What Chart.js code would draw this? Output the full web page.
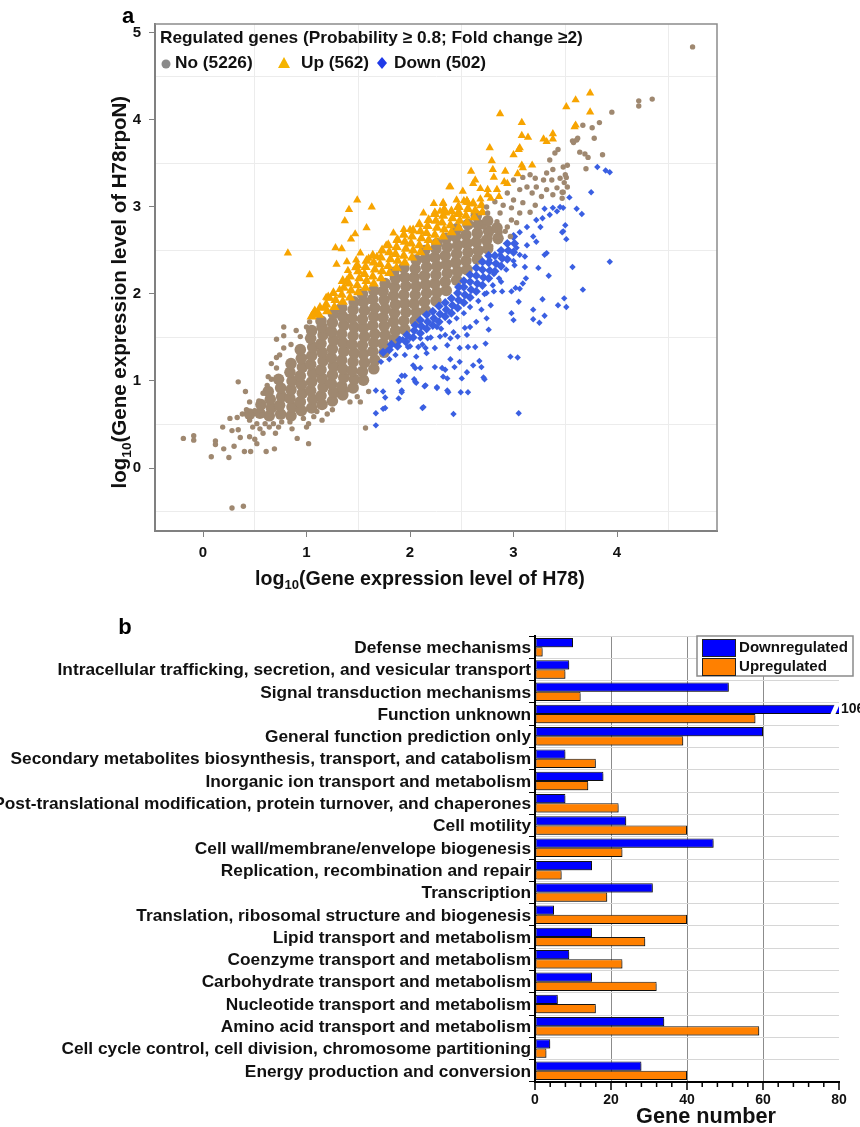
<!DOCTYPE html>
<html><head><meta charset="utf-8">
<script src="https://cdn.jsdelivr.net/npm/chart.js@4.4.0/dist/chart.umd.min.js"></script>
<style>
html,body{margin:0;padding:0;background:#fff;}
body{width:860px;height:1127px;overflow:hidden;position:relative;}
#ca{position:absolute;left:0;top:0;}
#cb{position:absolute;left:0;top:600px;}
</style></head><body>
<canvas id="ca" width="860" height="600"></canvas>
<canvas id="cb" width="860" height="527"></canvas>
<script>
// ---------------- Panel a data (log10 H78, log10 H78rpoN) ----------------
const X_TICKS_A = [0,0.5,1,1.5,2,2.5,3,3.5,4,4.5];
const Y_TICKS_A = [-0.5,0,0.5,1,1.5,2,2.5,3,3.5,4,4.5,5];

// dense part of the "No" cloud
const NO_CORE = [
[0.45,0.62],[0.55,0.63],[0.56,0.73],
[0.64,0.6],[0.66,0.69],[0.65,0.79],[0.63,0.88],
[0.75,0.62],[0.74,0.72],[0.76,0.82],[0.75,0.92],[0.73,1.02],
[0.85,0.6],[0.86,0.7],[0.84,0.8],[0.85,0.9],[0.86,1.0],[0.84,1.1],[0.85,1.2],
[0.95,0.66],[0.94,0.76],[0.96,0.86],[0.95,0.96],[0.94,1.06],[0.96,1.16],[0.95,1.26],[0.94,1.36],
[1.05,0.69],[1.06,0.79],[1.04,0.89],[1.05,0.99],[1.06,1.09],[1.04,1.19],[1.05,1.29],[1.06,1.39],[1.04,1.49],[1.05,1.58],
[1.15,0.73],[1.14,0.83],[1.16,0.93],[1.15,1.03],[1.14,1.13],[1.16,1.23],[1.15,1.33],[1.14,1.43],[1.16,1.53],[1.15,1.62],[1.14,1.69],
[1.25,0.77],[1.26,0.87],[1.24,0.97],[1.25,1.07],[1.26,1.17],[1.24,1.27],[1.25,1.37],[1.26,1.47],[1.24,1.57],[1.25,1.67],[1.26,1.77],
[1.35,0.84],[1.34,0.94],[1.36,1.04],[1.35,1.14],[1.34,1.24],[1.36,1.34],[1.35,1.44],[1.34,1.54],[1.36,1.64],[1.35,1.74],[1.34,1.84],
[1.45,0.92],[1.46,1.02],[1.44,1.12],[1.45,1.22],[1.46,1.32],[1.44,1.42],[1.45,1.52],[1.46,1.62],[1.44,1.72],[1.45,1.82],[1.46,1.91],
[1.55,1.01],[1.54,1.11],[1.56,1.21],[1.55,1.31],[1.54,1.41],[1.56,1.51],[1.55,1.61],[1.54,1.71],[1.56,1.81],[1.55,1.91],[1.54,2.0],
[1.65,1.14],[1.66,1.24],[1.64,1.34],[1.65,1.44],[1.66,1.54],[1.64,1.64],[1.65,1.74],[1.66,1.84],[1.64,1.94],[1.65,2.04],
[1.75,1.33],[1.74,1.43],[1.76,1.53],[1.75,1.63],[1.74,1.73],[1.76,1.83],[1.75,1.93],[1.74,2.03],[1.76,2.12],
[1.85,1.48],[1.86,1.58],[1.84,1.68],[1.85,1.78],[1.86,1.88],[1.84,1.98],[1.85,2.08],[1.86,2.18],[1.84,2.25],
[1.95,1.59],[1.94,1.69],[1.96,1.79],[1.95,1.89],[1.94,1.99],[1.96,2.09],[1.95,2.19],[1.94,2.3],
[2.05,1.69],[2.06,1.79],[2.04,1.89],[2.05,1.99],[2.06,2.09],[2.04,2.19],[2.05,2.29],[2.06,2.39],
[2.15,1.81],[2.14,1.91],[2.16,2.01],[2.15,2.11],[2.14,2.21],[2.16,2.31],[2.15,2.41],[2.14,2.5],
[2.25,1.92],[2.26,2.02],[2.24,2.12],[2.25,2.22],[2.26,2.32],[2.24,2.42],[2.25,2.52],[2.26,2.58],
[2.35,2.04],[2.34,2.14],[2.36,2.24],[2.35,2.34],[2.34,2.44],[2.36,2.54],[2.35,2.64],
[2.45,2.16],[2.46,2.26],[2.44,2.36],[2.45,2.46],[2.46,2.56],[2.44,2.66],[2.45,2.75],
[2.55,2.28],[2.54,2.38],[2.56,2.48],[2.55,2.58],[2.54,2.68],[2.56,2.8],
[2.65,2.4],[2.66,2.5],[2.64,2.6],[2.65,2.7],[2.66,2.8],[2.64,2.9],
[2.75,2.52],[2.74,2.62],[2.76,2.72],[2.75,2.84],
[2.85,2.64],[2.84,2.76]
];
// scattered "No" genes
const NO_EDGE = [
[-0.19,0.34],[-0.09,0.37],[-0.09,0.32],[0.08,0.13],[0.12,0.31],[0.12,0.27],[0.20,0.22],[0.19,0.47],[0.25,0.12],[0.26,0.57],
[0.28,0.43],[0.30,0.25],[0.33,0.58],[0.34,0.99],[0.34,0.44],[0.36,0.35],[0.28,-0.46],[0.39,-0.44],[0.40,0.19],[0.41,0.88],
[0.46,0.19],[0.45,0.36],[0.45,0.76],[0.50,0.33],[0.52,0.28],[0.58,0.40],[0.61,0.19],[0.69,0.22],[0.70,0.40],[0.63,1.05],
[0.71,1.48],[0.78,1.52],[0.78,1.38],[0.71,1.27],[0.71,1.15],[0.91,0.34],[1.02,0.28],[1.00,0.47],[1.02,0.51],[1.15,0.55],
[1.25,0.67],[1.42,0.76],[1.49,0.82],[1.52,0.76],[1.57,0.46],[1.60,0.88],[1.40,0.90],[1.29,0.84],[1.10,0.65],[0.97,0.57],
[0.84,0.53],[0.76,0.53],[0.68,0.51],[0.60,0.51],[0.57,0.61],[0.52,0.51],[0.45,0.55],[0.42,0.67],[0.58,0.86],[0.38,0.62],
[0.48,0.47],[0.55,0.45],[0.64,0.47],[0.73,0.47],[0.86,0.45],[1.07,0.59],[1.20,0.62],[0.50,0.66],[0.54,0.77],[0.62,0.95],
[0.66,1.02],[0.78,1.62],[0.94,1.51],[1.00,1.62],[1.03,1.68],[0.85,1.42],[0.90,1.58],[0.66,1.20],[0.74,1.30],
[2.71,2.77],[2.77,2.66],[2.87,2.71],[2.97,2.66],[2.74,3.0],[2.75,2.93],[2.84,2.83],[2.94,2.77],[3.03,2.82],[2.98,2.85],
[2.87,2.93],[2.82,3.06],[2.90,3.02],[2.98,2.99],[3.06,2.93],[3.16,2.94],[3.21,3.02],[3.09,3.05],[3.0,3.08],[2.94,3.16],
[3.0,3.31],[3.06,3.20],[3.13,3.23],[3.18,3.16],[3.27,3.12],[3.38,3.14],[3.47,3.17],[3.42,3.22],[3.32,3.20],[3.22,3.23],
[3.09,3.34],[3.16,3.37],[3.21,3.33],[3.29,3.31],[3.37,3.31],[3.45,3.33],[3.50,3.37],[3.32,3.39],[3.38,3.43],[3.48,3.46],
[3.35,3.54],[3.40,3.62],[3.43,3.66],[3.52,3.23],[3.47,3.10],[2.78,2.55],[2.85,2.60],[2.92,2.72],
[4.73,4.84],[4.21,4.22],[4.21,4.16],[4.34,4.24],[3.95,4.09],[3.83,3.97],[3.76,3.91],[3.67,3.94],[3.78,3.79],[3.62,3.79],
[3.57,3.76],[3.58,3.74],[3.64,3.63],[3.69,3.61],[3.72,3.57],[3.86,3.60],[3.70,3.44],[3.52,3.48],[3.49,3.28],[3.51,3.34],
[3.48,3.17],[3.61,3.77]
];
// dense part of the "Up" band
const UP_CORE = [
[1.05,1.74],[1.08,1.8],[1.12,1.76],[1.13,1.84],[1.2,1.8],[1.19,1.88],[1.21,1.96],[1.27,1.85],[1.28,1.93],[1.26,2.01],
[1.35,1.91],[1.34,1.99],[1.36,2.07],[1.35,2.15],[1.42,1.96],[1.43,2.04],[1.41,2.12],[1.42,2.2],
[1.5,2.02],[1.49,2.1],[1.51,2.18],[1.5,2.26],[1.49,2.33],[1.57,2.07],[1.58,2.15],[1.56,2.23],[1.57,2.31],[1.58,2.38],
[1.65,2.12],[1.64,2.2],[1.66,2.28],[1.65,2.36],[1.64,2.44],[1.72,2.18],[1.73,2.26],[1.71,2.34],[1.72,2.42],[1.73,2.5],
[1.8,2.24],[1.79,2.32],[1.81,2.4],[1.8,2.48],[1.79,2.56],[1.87,2.3],[1.88,2.38],[1.86,2.46],[1.87,2.54],[1.88,2.62],
[1.95,2.36],[1.94,2.44],[1.96,2.52],[1.95,2.6],[1.94,2.68],[2.02,2.42],[2.03,2.5],[2.01,2.58],[2.02,2.66],[2.03,2.73],
[2.1,2.48],[2.09,2.56],[2.11,2.64],[2.1,2.72],[2.09,2.8],[2.17,2.54],[2.18,2.62],[2.16,2.7],[2.17,2.78],[2.18,2.85],
[2.25,2.6],[2.24,2.68],[2.26,2.76],[2.25,2.84],[2.24,2.92],[2.32,2.66],[2.33,2.74],[2.31,2.82],[2.32,2.9],[2.33,2.97],
[2.4,2.71],[2.39,2.79],[2.41,2.87],[2.4,2.95],[2.47,2.76],[2.48,2.84],[2.46,2.92],[2.47,3.0],
[2.55,2.82],[2.54,2.9],[2.56,2.98],[2.55,3.06],[2.62,2.88],[2.63,2.96],[2.61,3.04],[2.7,2.94],[2.69,3.02]
];
// scattered "Up" genes
const UP_EDGE = [
[0.82,2.47],[1.03,2.22],[1.49,3.08],[1.41,2.97],[1.63,3.0],[1.37,2.84],[1.58,2.76],[1.47,2.69],[1.43,2.63],[1.28,2.53],
[1.34,2.52],[1.52,2.47],[1.60,2.41],[1.68,2.43],[1.29,2.34],[1.39,2.37],[1.48,2.39],[1.40,2.27],[1.47,2.30],[1.39,2.16],
[1.32,2.05],[1.23,1.95],[1.19,1.96],[1.18,1.84],[1.11,1.78],[1.06,1.77],[1.84,2.70],[1.77,2.56],[1.87,2.62],[2.13,2.93],
[2.23,3.04],[2.32,3.04],[2.38,3.23],[2.51,3.18],[2.61,3.27],[2.45,3.08],[2.52,3.07],[2.56,3.05],[2.29,2.95],[2.35,2.93],
[2.48,2.93],[2.0,2.74],[1.94,2.74],[2.87,4.07],[3.08,3.97],[3.08,3.82],[3.14,3.80],[3.29,3.78],[3.32,3.75],[3.38,3.84],
[3.38,3.78],[3.06,3.68],[3.05,3.66],[2.77,3.68],[3.0,3.6],[2.79,3.53],[3.08,3.48],[3.18,3.48],[3.04,3.38],[3.09,3.45],
[2.59,3.41],[2.80,3.43],[2.92,3.41],[2.81,3.34],[2.91,3.29],[2.94,3.27],[2.63,3.31],[2.39,3.23],[2.68,3.21],[2.75,3.20],
[2.84,3.20],[2.75,3.14],[2.32,3.05],[2.55,3.07],[2.68,3.09],[2.24,2.94],[2.46,3.0],[2.56,2.97],[2.78,3.1],[2.86,3.12],
[3.74,4.31],[3.60,4.23],[3.51,4.15],[3.74,4.09],[3.60,3.94],[3.59,3.92]
];
// dense part of the "Down" band
const DOWN_CORE = [
[1.74,1.33],[1.8,1.36],[1.82,1.42],[1.88,1.4],[1.9,1.47],[1.96,1.45],[1.97,1.53],[2.03,1.5],[2.04,1.58],[2.05,1.64],
[2.1,1.55],[2.11,1.63],[2.1,1.7],[2.16,1.6],[2.17,1.68],[2.16,1.76],[2.22,1.64],[2.23,1.72],[2.22,1.8],[2.28,1.68],
[2.29,1.77],[2.28,1.86],[2.34,1.74],[2.35,1.82],[2.34,1.9],[2.4,1.78],[2.41,1.87],[2.4,1.95],[2.46,1.84],[2.47,1.93],
[2.46,2.01],[2.47,2.08],[2.52,1.9],[2.53,1.99],[2.52,2.08],[2.52,2.15],[2.58,1.96],[2.59,2.05],[2.58,2.14],[2.58,2.22],
[2.64,2.03],[2.65,2.12],[2.64,2.21],[2.64,2.3],[2.7,2.1],[2.71,2.19],[2.7,2.28],[2.7,2.37],[2.76,2.18],[2.77,2.27],
[2.76,2.36],[2.76,2.44],[2.82,2.26],[2.83,2.35],[2.82,2.44],[2.88,2.32],[2.89,2.41],[2.88,2.5],[2.94,2.4],[2.95,2.5],
[2.94,2.58],[3.0,2.48],[3.01,2.58],[3.0,2.66]
];
// scattered "Down" genes
const DOWN_EDGE = [
[3.81,3.46],[3.89,3.42],[3.93,3.40],[3.75,3.17],[3.54,3.11],[3.61,2.98],[3.66,2.92],[3.50,2.79],[3.48,2.72],[3.51,2.63],
[3.93,2.37],[3.57,2.31],[3.67,2.05],[3.49,1.95],[3.51,1.85],[3.48,2.99],[3.45,3.0],[3.42,2.95],[3.38,2.99],[3.30,2.98],
[3.35,2.91],[3.47,2.71],[3.28,2.87],[3.22,2.85],[3.26,2.77],[3.13,2.77],[3.06,2.71],[3.19,2.66],[3.22,2.60],[3.32,2.47],
[3.13,2.56],[3.03,2.53],[2.87,2.45],[2.77,2.39],[3.11,2.43],[3.01,2.33],[3.11,2.31],[3.30,2.45],[3.24,2.30],[3.34,2.21],
[3.43,1.87],[3.28,1.94],[3.19,1.82],[3.30,1.75],[3.19,1.71],[3.25,1.67],[3.12,2.18],[3.09,2.12],[3.06,2.06],[3.02,2.07],
[2.98,2.03],[2.89,2.03],[3.05,1.91],[2.98,1.78],[3.0,1.70],[2.97,1.28],[3.04,1.27],[3.05,0.63],[2.81,2.03],[2.88,2.14],
[2.81,2.23],[2.74,2.01],[2.78,1.87],[2.69,1.82],[2.74,1.72],[2.76,1.59],[2.64,1.68],[2.73,1.43],[2.67,1.23],[2.69,1.16],
[2.71,1.04],[2.61,1.18],[2.58,1.62],[2.55,1.53],[2.53,1.61],[2.63,1.39],[2.56,1.39],[2.48,1.38],[2.55,1.10],[2.50,1.03],
[2.56,0.87],[2.49,0.87],[2.42,0.62],[2.48,1.22],[2.43,1.16],[2.39,1.25],[2.46,1.51],[2.42,1.56],[2.39,1.49],[2.36,1.41],
[2.29,1.51],[2.34,1.13],[2.31,1.15],[2.24,1.16],[2.36,1.03],[2.32,1.05],[2.26,0.93],[2.37,0.87],[2.14,0.94],[2.06,0.98],
[2.05,0.99],[2.12,0.69],[1.95,1.06],[1.92,1.06],[1.92,0.87],[2.05,1.15],[2.10,1.15],[2.03,1.18],[2.24,1.38],[2.15,1.38],
[2.16,1.32],[2.06,1.28],[1.95,1.30],[1.98,1.39],[2.08,1.39],[2.17,1.49],[2.26,1.62],[2.34,1.53],[2.10,1.49],[2.0,1.49],
[1.93,1.48],[1.67,0.49],[1.67,0.63],[1.74,0.68],[1.76,0.69],[1.76,0.81],[1.67,0.89],[1.74,0.88],[1.89,0.80],[1.92,0.89],
[2.13,0.70],[2.26,0.92],[2.36,0.89],[1.89,1.0],[2.04,1.02],[2.15,0.95],[2.72,1.02],
[1.72,1.22],[1.8,1.25],[1.86,1.3],[2.0,1.4],[2.12,1.42],[2.2,1.5],[2.3,1.6],[2.38,1.68],[2.45,1.72],[2.52,1.78],
[2.58,1.85],[2.66,1.92],[2.72,2.0],[2.8,2.1],[2.86,2.18],[2.93,2.28],[3.0,2.38],[3.06,2.45]
];

// ---------------- Panel b data ----------------
const CATEGORIES = [
"Defense mechanisms",
"Intracellular trafficking, secretion, and vesicular transport",
"Signal transduction mechanisms",
"Function unknown",
"General function prediction only",
"Secondary metabolites biosynthesis, transport, and catabolism",
"Inorganic ion transport and metabolism",
"Post-translational modification, protein turnover, and chaperones",
"Cell motility",
"Cell wall/membrane/envelope biogenesis",
"Replication, recombination and repair",
"Transcription",
"Translation, ribosomal structure and biogenesis",
"Lipid transport and metabolism",
"Coenzyme transport and metabolism",
"Carbohydrate transport and metabolism",
"Nucleotide transport and metabolism",
"Amino acid transport and metabolism",
"Cell cycle control, cell division, chromosome partitioning",
"Energy production and conversion"
];
const DOWN_COUNTS = [10,9,51,106,60,8,18,8,24,47,15,31,5,15,9,15,6,34,4,28];
const UP_COUNTS   = [2,8,12,58,39,16,14,22,40,23,7,19,40,29,23,32,16,59,3,40];
const X_TICKS_B = [0,4,8,12,16,20,24,28,32,36,40,44,48,52,56,60,64,68,72,76,80];

// ---------------- styling ----------------
const FONT = '"Liberation Sans", Arial, Helvetica, sans-serif';
const BROWN = '#9f8870', ORANGE = '#f7a400', BLUE = '#3a5fe2';
const BAR_BLUE = '#0000ff', BAR_ORANGE = '#ff8000';
const TRANSPARENT = 'rgba(0,0,0,0)';
const toPts = a => a.map(p => ({x:p[0], y:p[1]}));
const isInt = v => Math.abs(v - Math.round(v)) < 1e-9;

function fitSize(ctx, text, target, base){
  ctx.font = `bold ${base}px ${FONT}`;
  return base * target / ctx.measureText(text).width;
}
function drawLogTitle(ctx, cx, cy, rest, target, vertical){
  const base = 18, sub = 12;
  ctx.font = `bold ${base}px ${FONT}`;
  const w1 = ctx.measureText('log').width, w3 = ctx.measureText(rest).width;
  ctx.font = `bold ${sub}px ${FONT}`;
  const w2 = ctx.measureText('10').width;
  const k = target / (w1 + w2 + w3);
  ctx.save();
  ctx.translate(cx, cy);
  if (vertical) ctx.rotate(-Math.PI/2);
  ctx.fillStyle = '#111'; ctx.textAlign = 'left'; ctx.textBaseline = 'alphabetic';
  let x = -(w1 + w2 + w3) * k / 2;
  const by = base * k * 0.36;
  ctx.font = `bold ${base*k}px ${FONT}`; ctx.fillText('log', x, by); x += w1 * k;
  ctx.font = `bold ${sub*k}px ${FONT}`; ctx.fillText('10', x, by + 4*k); x += w2 * k;
  ctx.font = `bold ${base*k}px ${FONT}`; ctx.fillText(rest, x, by);
  ctx.restore();
}

// ---------------- Panel a ----------------
const decorA = {
  id: 'decorA',
  afterDraw(chart){
    const ctx = chart.ctx, a = chart.chartArea;
    ctx.save();
    ctx.strokeStyle = '#8c8c8c'; ctx.lineWidth = 1.5;
    ctx.beginPath();
    ctx.moveTo(a.left, a.top); ctx.lineTo(a.right, a.top); ctx.lineTo(a.right, a.bottom);
    ctx.stroke();
    const title = 'Regulated genes (Probability \u2265 0.8; Fold change \u22652)';
    const fs = fitSize(ctx, title, 423, 16);
    ctx.font = `bold ${fs}px ${FONT}`;
    ctx.fillStyle = '#111'; ctx.textAlign = 'left'; ctx.textBaseline = 'middle';
    ctx.fillText(title, 160, 38);
    const ds = chart.data.datasets;
    const ly = 63;
    ctx.fillStyle = '#8a8a8a';
    ctx.beginPath(); ctx.arc(166, ly+1, 4.5, 0, Math.PI*2); ctx.fill();
    ctx.fillStyle = '#111'; ctx.fillText(ds[2].label, 175, ly);
    ctx.fillStyle = '#f5b400';
    ctx.beginPath(); ctx.moveTo(284, ly-6); ctx.lineTo(290, ly+5); ctx.lineTo(278, ly+5); ctx.closePath(); ctx.fill();
    ctx.fillStyle = '#111'; ctx.fillText(ds[1].label, 301, ly);
    ctx.fillStyle = '#1f3ae8';
    ctx.beginPath(); ctx.moveTo(382, ly-6); ctx.lineTo(387, ly); ctx.lineTo(382, ly+6); ctx.lineTo(377, ly); ctx.closePath(); ctx.fill();
    ctx.fillStyle = '#111'; ctx.fillText(ds[0].label, 394, ly);
    drawLogTitle(ctx, 420, 578, '(Gene expression level of H78)', 330, false);
    drawLogTitle(ctx, 119, 292, '(Gene expression level of H78rpoN)', 393, true);
    ctx.font = `bold 22px ${FONT}`; ctx.fillStyle = '#000'; ctx.textAlign = 'center';
    ctx.fillText('a', 128, 17);
    ctx.restore();
  }
};

new Chart(document.getElementById('ca'), {
  type: 'scatter',
  data: { datasets: [
    { label: 'Down (502)', data: toPts(DOWN_EDGE), pointStyle: 'rectRot', pointRadius: 3.2, backgroundColor: BLUE, borderWidth: 0 },
    { label: 'Up (562)', data: toPts(UP_EDGE), pointStyle: 'triangle', pointRadius: 4.8, backgroundColor: ORANGE, borderWidth: 0 },
    { label: 'No (5226)', data: toPts(NO_EDGE), pointStyle: 'circle', pointRadius: 2.7, backgroundColor: BROWN, borderWidth: 0 },
    { label: 'Down core', data: toPts(DOWN_CORE), pointStyle: 'rectRot', pointRadius: 4.6, backgroundColor: BLUE, borderWidth: 0 },
    { label: 'Up core', data: toPts(UP_CORE), pointStyle: 'triangle', pointRadius: 5.9, backgroundColor: ORANGE, borderWidth: 0 },
    { label: 'No core', data: toPts(NO_CORE), pointStyle: 'circle', pointRadius: 5.8, backgroundColor: BROWN, borderWidth: 0 }
  ]},
  options: {
    responsive: false, animation: false, events: [], devicePixelRatio: 1,
    layout: { padding: { left: 0, top: 24, right: 143, bottom: 0 } },
    plugins: { legend: { display: false }, tooltip: { enabled: false } },
    scales: {
      x: {
        type: 'linear', min: -0.464, max: 4.966,
        afterBuildTicks: s => { s.ticks = X_TICKS_A.map(v => ({ value: v })); },
        afterFit: s => { s.height = 69; },
        grid: {
          color: c => (c.tick && !isInt(c.tick.value)) ? '#ececec' : TRANSPARENT,
          tickColor: c => (c.tick && isInt(c.tick.value)) ? '#808080' : TRANSPARENT,
          tickLength: 6, lineWidth: 1
        },
        border: { display: true, color: '#808080', width: 2 },
        ticks: { autoSkip: false, maxRotation: 0, padding: 7, color: '#111',
          font: { family: FONT, size: 15, weight: 'bold' },
          callback: v => isInt(v) ? String(Math.round(v)) : '' }
      },
      y: {
        type: 'linear', min: -0.724, max: 5.103,
        afterBuildTicks: s => { s.ticks = Y_TICKS_A.map(v => ({ value: v })); },
        afterFit: s => { s.width = 155; },
        grid: {
          color: c => (c.tick && !isInt(c.tick.value)) ? '#ececec' : TRANSPARENT,
          tickColor: c => (c.tick && isInt(c.tick.value)) ? '#808080' : TRANSPARENT,
          tickLength: 6, lineWidth: 1
        },
        border: { display: true, color: '#808080', width: 2 },
        ticks: { autoSkip: false, padding: 8, color: '#111',
          font: { family: FONT, size: 15, weight: 'bold' },
          callback: v => isInt(v) ? String(Math.round(v)) : '' }
      }
    }
  },
  plugins: [decorA]
});

// ---------------- Panel b ----------------
const shadowB = {
  id: 'shadowB',
  beforeDatasetsDraw(chart){
    const ctx = chart.ctx; ctx.save();
    ctx.shadowColor = 'rgba(0,0,0,0.33)'; ctx.shadowOffsetX = 2; ctx.shadowOffsetY = 2; ctx.shadowBlur = 0;
  },
  afterDatasetsDraw(chart){ chart.ctx.restore(); }
};
const decorB = {
  id: 'decorB',
  afterDraw(chart){
    const ctx = chart.ctx, a = chart.chartArea;
    const xs = chart.scales.x, ys = chart.scales.y;
    ctx.save();
    ctx.font = `bold 17.3px ${FONT}`; ctx.fillStyle = '#111';
    ctx.textAlign = 'right'; ctx.textBaseline = 'middle';
    CATEGORIES.forEach((c, i) => ctx.fillText(c, a.left - 4, ys.getPixelForValue(i) + 1));
    ctx.strokeStyle = '#000'; ctx.lineWidth = 1.5;
    X_TICKS_B.forEach(v => {
      const px = xs.getPixelForValue(v);
      ctx.beginPath(); ctx.moveTo(px, a.bottom); ctx.lineTo(px, a.bottom + (v % 20 === 0 ? 8 : 5)); ctx.stroke();
    });
    const meta = chart.getDatasetMeta(0);
    DOWN_COUNTS.forEach((v, i) => {
      if (v <= xs.max) return;
      const el = meta.data[i];
      const t = el.y - el.height/2 - 1, b = el.y + el.height/2 + 1;
      ctx.fillStyle = '#fff';
      ctx.beginPath();
      ctx.moveTo(a.right - 9, b); ctx.lineTo(a.right - 4, b); ctx.lineTo(a.right + 1, t); ctx.lineTo(a.right - 4, t);
      ctx.closePath(); ctx.fill();
      ctx.font = `bold 14px ${FONT}`; ctx.fillStyle = '#111'; ctx.textAlign = 'left';
      ctx.fillText(String(v), a.right + 2, el.y);
    });
    const bx = 697, by = 36, bw = 156, bh = 40;
    ctx.fillStyle = '#fff'; ctx.fillRect(bx, by, bw, bh);
    ctx.strokeStyle = '#8a8a8a'; ctx.lineWidth = 1.5; ctx.strokeRect(bx, by, bw, bh);
    const ds = chart.data.datasets;
    [[39, ds[0]], [58, ds[1]]].forEach(([yy, d]) => {
      ctx.fillStyle = d.backgroundColor; ctx.fillRect(702, yy, 33, 17);
      ctx.strokeStyle = '#222'; ctx.lineWidth = 1; ctx.strokeRect(702.5, yy + 0.5, 33, 17);
    });
    const lfs = fitSize(ctx, ds[0].label, 109, 16);
    ctx.font = `bold ${lfs}px ${FONT}`; ctx.fillStyle = '#111'; ctx.textAlign = 'left'; ctx.textBaseline = 'middle';
    ctx.fillText(ds[0].label, 739, 48);
    ctx.fillText(ds[1].label, 739, 67);
    const gfs = fitSize(ctx, 'Gene number', 140, 20);
    ctx.font = `bold ${gfs}px ${FONT}`; ctx.textAlign = 'center'; ctx.fillStyle = '#111';
    ctx.fillText('Gene number', 706, 517);
    ctx.font = `bold 22px ${FONT}`; ctx.fillStyle = '#000';
    ctx.fillText('b', 125, 28);
    ctx.restore();
  }
};

new Chart(document.getElementById('cb'), {
  type: 'bar',
  data: { labels: CATEGORIES, datasets: [
    { label: 'Downregulated', data: DOWN_COUNTS, backgroundColor: BAR_BLUE, borderColor: '#151515', borderWidth: 1,
      borderSkipped: false, categoryPercentage: 0.83, barPercentage: 1.0, clip: { left: 4, right: 0, top: false, bottom: false } },
    { label: 'Upregulated', data: UP_COUNTS, backgroundColor: BAR_ORANGE, borderColor: '#151515', borderWidth: 1,
      borderSkipped: false, categoryPercentage: 0.83, barPercentage: 1.0, clip: { left: 4, right: 0, top: false, bottom: false } }
  ]},
  options: {
    indexAxis: 'y', responsive: false, animation: false, events: [], devicePixelRatio: 1,
    layout: { padding: { left: 0, top: 36, right: 21, bottom: 0 } },
    plugins: { legend: { display: false }, tooltip: { enabled: false } },
    scales: {
      x: {
        type: 'linear', min: 0, max: 80, position: 'bottom',
        afterBuildTicks: s => { s.ticks = X_TICKS_B.map(v => ({ value: v })); },
        afterFit: s => { s.height = 45; },
        grid: { drawTicks: false, lineWidth: 1,
          color: c => (c.tick && c.tick.value % 20 === 0 && c.tick.value > 0 && c.tick.value < 80) ? '#8c8c8c' : TRANSPARENT },
        border: { display: true, color: '#000', width: 2 },
        ticks: { autoSkip: false, maxRotation: 0, padding: 10, color: '#111',
          font: { family: FONT, size: 14, weight: 'bold' },
          callback: v => (v % 20 === 0) ? String(v) : '' }
      },
      y: {
        type: 'category',
        afterFit: s => { s.width = 535; },
        grid: { offset: true, color: '#d6d6d6', lineWidth: 1, tickColor: '#000', tickLength: 6, drawTicks: true },
        border: { display: true, color: '#000', width: 2 },
        ticks: { display: false }
      }
    }
  },
  plugins: [shadowB, decorB]
});
</script>
</body></html>
